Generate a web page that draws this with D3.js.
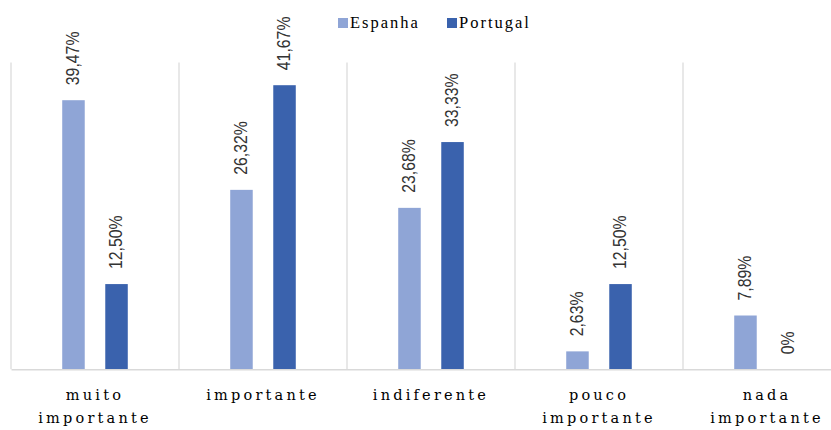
<!DOCTYPE html>
<html>
<head>
<meta charset="utf-8">
<script src="https://cdn.jsdelivr.net/npm/d3@7"></script>
<style>
  html, body { margin: 0; padding: 0; background: #fff; }
  svg { display: block; }
</style>
</head>
<body>
<svg id="chart" width="831" height="430"></svg>
<script>
// Categories (each label split into display lines)
const categories = ["muito importante", "importante", "indiferente", "pouco importante", "nada importante"];
const categoryLines = [["muito", "importante"], ["importante"], ["indiferente"], ["pouco", "importante"], ["nada", "importante"]];

// Series
const series = ["Espanha", "Portugal"];
const espanha = [39.47, 26.32, 23.68, 2.63, 7.89];
const portugal = [12.50, 41.67, 33.33, 12.50, 0];
const valueLabelsEspanha = ["39,47%", "26,32%", "23,68%", "2,63%", "7,89%"];
const valueLabelsPortugal = ["12,50%", "41,67%", "33,33%", "12,50%", "0%"];
const colors = ["#8FA5D6", "#3A62AD"];

const values = [espanha, portugal];
const labels = [valueLabelsEspanha, valueLabelsPortugal];

const svg = d3.select("#chart");

const plot = { left: 11, right: 851, top: 62.5, bottom: 369.3 };

const x = d3.scaleBand()
  .domain(categories)
  .range([plot.left, plot.right])
  .paddingInner(0)
  .paddingOuter(0);

const xs = d3.scaleBand()
  .domain(series)
  .range([0, x.bandwidth()])
  .paddingInner(0.477)
  .paddingOuter(1.19);

const y = d3.scaleLinear()
  .domain([0, 45])
  .range([plot.bottom, plot.top]);

const color = d3.scaleOrdinal().domain(series).range(colors);

// Vertical separators between categories
const bounds = categories.map(c => x(c)).concat([x(categories[categories.length - 1]) + x.bandwidth()]);
svg.append("g")
  .selectAll("line")
  .data(bounds)
  .join("line")
  .attr("x1", d => d).attr("x2", d => d)
  .attr("y1", plot.top).attr("y2", plot.bottom)
  .attr("stroke", "#d9d9d9")
  .attr("stroke-width", 1.2);

// Bars
const rows = [];
series.forEach((s, si) => {
  categories.forEach((c, ci) => {
    rows.push({ s, c, v: values[si][ci], label: labels[si][ci] });
  });
});

svg.append("g")
  .selectAll("rect")
  .data(rows)
  .join("rect")
  .attr("x", d => x(d.c) + xs(d.s))
  .attr("width", xs.bandwidth())
  .attr("y", d => y(d.v))
  .attr("height", d => y(0) - y(d.v))
  .attr("fill", d => color(d.s));

// Rotated value labels above the bars
svg.append("g")
  .selectAll("text")
  .data(rows)
  .join("text")
  .attr("transform", d => {
    const cx = x(d.c) + xs(d.s) + xs.bandwidth() / 2;
    const cy = y(d.v) - 15;
    return `translate(${cx},${cy}) rotate(-90) scale(0.88,1)`;
  })
  .attr("text-anchor", "start")
  .attr("dominant-baseline", "central")
  .attr("font-family", "'Liberation Sans', Arial, sans-serif")
  .attr("font-size", 18)
  .attr("fill", "#333333")
  .text(d => d.label);

// Category axis
const xAxis = d3.axisBottom(x).tickSize(0).tickFormat("");
const axisG = svg.append("g")
  .attr("transform", `translate(0,${plot.bottom})`)
  .call(xAxis);
axisG.select(".domain").attr("stroke", "#d9d9d9").attr("stroke-width", 1.5);

axisG.selectAll(".tick").each(function(d, i) {
  const t = d3.select(this).select("text")
    .attr("y", 0)
    .attr("dy", null)
    .attr("font-family", "'DejaVu Serif', Cambria, serif")
    .attr("font-size", 14.5)
    .attr("letter-spacing", 3.2)
    .attr("fill", "#000")
    .attr("text-anchor", "middle");
  categoryLines[i].forEach((line, li) => {
    t.append("tspan")
      .attr("x", 0)
      .attr("y", 31 + li * 23)
      .text(line);
  });
});

// Legend
const legendItems = [
  { s: series[0], x: 338 },
  { s: series[1], x: 447 }
];
const legend = svg.append("g");
const li = legend.selectAll("g")
  .data(legendItems)
  .join("g")
  .attr("transform", d => `translate(${d.x},18)`);
li.append("rect")
  .attr("width", 10).attr("height", 10)
  .attr("fill", d => color(d.s));
li.append("text")
  .attr("x", 12)
  .attr("y", 9.5)
  .attr("font-family", "'Liberation Serif', 'Times New Roman', serif")
  .attr("font-size", 16.5)
  .attr("letter-spacing", 2)
  .attr("fill", "#000")
  .text(d => d.s);
</script>
</body>
</html>
